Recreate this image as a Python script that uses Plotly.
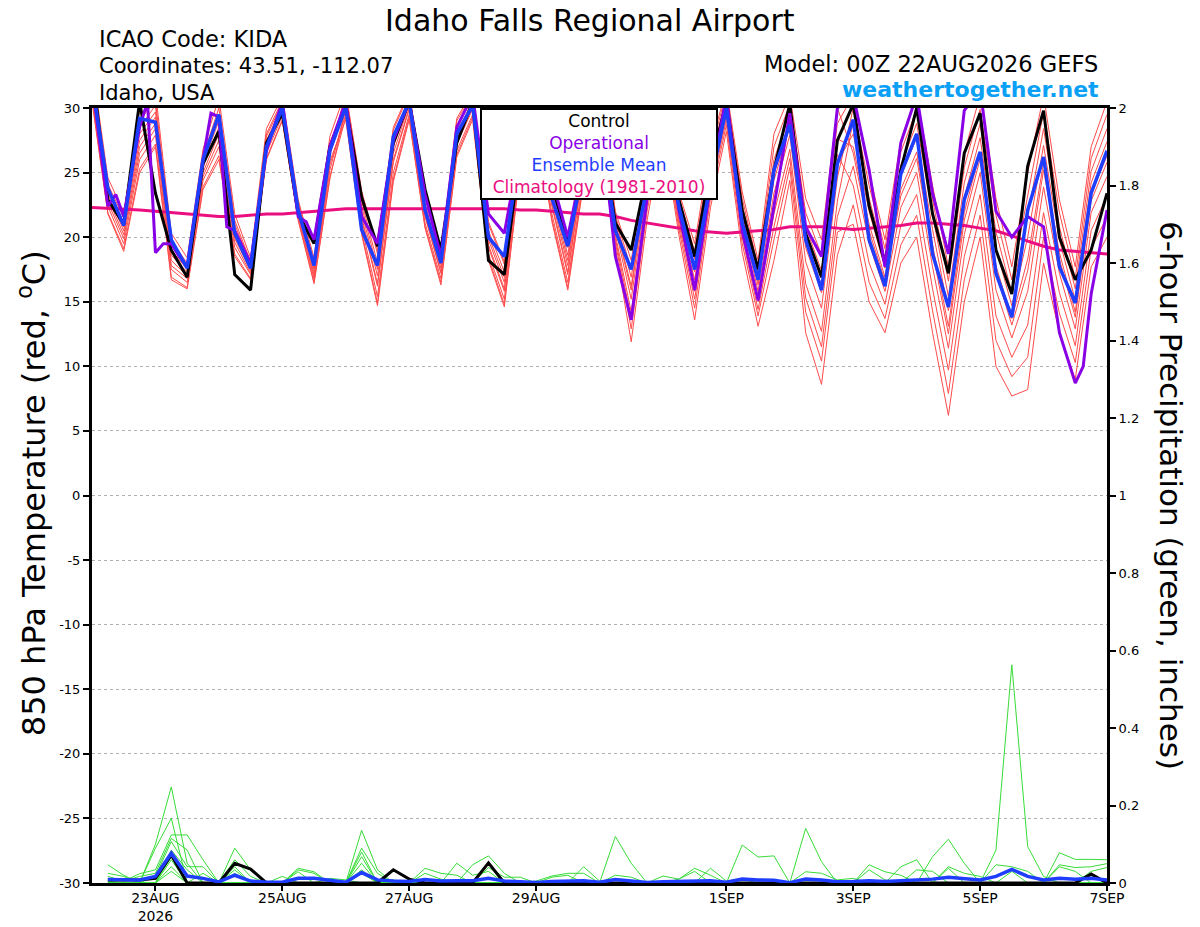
import numpy as np
import pandas as pd
import plotly.graph_objects as go

###############################################################################
# GEFS meteogram, Idaho Falls Regional Airport (KIDA), run 00Z 22AUG2026
###############################################################################
run_start = pd.Timestamp("2026-08-22 00:00")
step_hours = list(range(0, 385, 6))          # temperature: 0..384 h
precip_hours = list(range(6, 385, 6))        # 6-h precip: 6..384 h

# 850 hPa temperature (C)
control_t = [33.0, 22.9, 21.0, 30.5, 23.4, 19.0, 16.9, 25.7, 28.2, 17.1, 15.9, 27.3, 29.6, 21.8, 19.5, 27.0,
             30.2, 23.1, 19.3, 27.3, 30.5, 23.7, 19.0, 27.3, 30.5, 18.2, 17.1, 26.5, 30.5, 24.0, 19.8, 25.5,
             29.0, 21.1, 19.0, 25.0, 30.0, 22.9, 18.5, 25.5, 30.5, 22.1, 17.5, 25.2, 30.3, 20.3, 16.9, 27.5,
             30.3, 22.4, 18.0, 25.2, 30.0, 21.8, 17.2, 26.5, 29.6, 19.0, 15.6, 25.5, 29.8, 20.0, 16.7, 19.0, 23.4]
mean_t = [32.0, 23.8, 20.9, 29.2, 28.9, 19.8, 17.6, 26.0, 29.5, 20.3, 17.6, 27.0, 30.0, 22.1, 17.8, 26.7,
          30.1, 20.6, 17.8, 27.8, 30.5, 22.1, 18.0, 28.0, 30.2, 20.0, 18.5, 27.0, 30.5, 23.0, 19.3, 25.5,
          29.0, 20.5, 17.5, 24.0, 29.5, 22.4, 17.5, 24.2, 30.0, 21.1, 16.7, 25.2, 28.7, 19.8, 15.9, 25.7,
          29.1, 19.8, 16.2, 24.9, 28.0, 18.7, 14.6, 22.9, 26.6, 17.2, 13.8, 22.1, 26.2, 17.7, 14.9, 23.4, 26.7]
clim_t = [22.3, 22.25, 22.2, 22.1, 22.0, 21.9, 21.8, 21.7, 21.6, 21.6, 21.7, 21.8, 21.8, 21.9, 22.0, 22.1,
          22.2, 22.2, 22.2, 22.2, 22.2, 22.2, 22.2, 22.2, 22.2, 22.2, 22.2, 22.1, 22.1, 22.0, 21.9, 21.8,
          21.8, 21.6, 21.3, 21.1, 20.9, 20.7, 20.5, 20.4, 20.3, 20.4, 20.5, 20.6, 20.8, 20.8, 20.8, 20.7,
          20.6, 20.7, 20.8, 20.9, 21.1, 21.1, 21.0, 20.9, 20.7, 20.5, 20.1, 19.7, 19.3, 19.0, 18.9, 18.8, 18.7]

# operational run has a few extra 3-hourly points
op_hours = [0, 6, 9, 12, 18, 21, 24, 27, 30, 33, 36, 42, 45, 48, 51, 54, 60, 66, 72, 78, 81, 84, 90,
            96, 102, 108, 114, 120, 126, 132, 138, 144, 150, 156, 162, 168, 174, 180, 186, 192,
            198, 204, 210, 216, 222, 228, 234, 240, 246, 252, 258, 264, 270, 276, 282, 288,
            294, 300, 306, 312, 318, 324, 330, 336, 342, 348, 354, 360, 366, 372, 375, 378, 384]
op_t = [32.0, 22.4, 23.3, 21.6, 28.5, 30.5, 18.8, 19.5, 19.5, 18.5, 17.7, 26.0, 29.6, 29.3, 20.8, 20.5, 18.0,
        26.7, 30.5, 21.6, 21.2, 19.8, 27.0,
        30.5, 21.6, 19.5, 27.5, 30.5, 23.3, 18.5, 28.5, 31.0, 21.8, 20.3, 27.0, 31.0, 24.5, 20.0, 26.0, 30.0,
        18.5, 13.6, 23.0, 30.5, 22.1, 15.9, 24.0, 31.0, 20.5, 15.1, 22.4, 29.6, 20.8, 18.5, 30.0, 31.0,
        25.2, 17.7, 27.3, 31.0, 23.4, 18.7, 29.8, 31.5, 22.0, 20.0, 21.6, 20.8, 12.6, 8.7, 10.0, 15.6, 22.1]

ens_t01 = [33.4, 24.6, 21.9, 29.8, 31.3, 20.3, 18.4, 26.8, 30.8, 21.8, 18.4, 28.4, 30.9, 22.9, 18.4, 27.8,
           31.3, 23.6, 19.0, 28.5, 31.3, 23.2, 18.7, 29.2, 31.3, 21.2, 18.1, 28.2, 31.3, 24.6, 19.4, 27.6,
           30.4, 21.4, 16.9, 25.0, 30.4, 22.8, 18.3, 26.0, 30.8, 22.5, 17.1, 26.0, 29.6, 20.8, 17.4, 27.6,
           27.0, 21.0, 16.9, 23.7, 26.6, 19.4, 13.1, 21.9, 26.6, 17.8, 13.7, 18.3, 25.8, 18.8, 14.2, 23.3, 26.3]
ens_t02 = [30.7, 21.9, 19.1, 25.3, 27.2, 16.9, 16.1, 23.9, 26.3, 18.7, 16.8, 26.1, 29.1, 21.4, 16.5, 24.7,
           29.3, 20.4, 14.9, 24.5, 29.3, 20.8, 16.5, 26.4, 29.3, 18.4, 14.8, 25.4, 29.3, 21.4, 16.1, 24.4,
           28.6, 19.6, 12.9, 22.0, 28.6, 20.7, 14.5, 23.0, 28.7, 19.5, 13.9, 19.8, 25.4, 14.2, 10.4, 20.4,
           21.0, 15.0, 12.6, 18.0, 20.0, 12.6, 6.2, 15.0, 20.0, 10.0, 7.7, 8.2, 18.0, 12.6, 9.0, 17.7, 20.0]
ens_t03 = [32.0, 23.3, 20.5, 27.5, 29.3, 18.6, 17.3, 25.4, 28.5, 20.3, 17.6, 27.3, 30.0, 22.2, 17.5, 26.3,
           30.8, 22.8, 18.0, 27.5, 30.8, 22.6, 18.2, 28.5, 30.8, 20.5, 17.3, 27.5, 30.8, 23.8, 18.6, 26.8,
           30.7, 21.7, 17.5, 25.5, 30.7, 23.2, 18.9, 26.5, 31.2, 23.0, 17.7, 27.0, 30.3, 21.9, 18.6, 28.8,
           31.0, 25.0, 19.8, 27.5, 31.0, 24.0, 17.7, 26.5, 31.0, 23.0, 17.7, 25.0, 31.0, 22.9, 17.7, 27.0, 30.5]
ens_t04 = [31.4, 22.7, 19.9, 26.5, 28.4, 17.8, 16.8, 24.7, 27.5, 19.6, 17.2, 26.8, 29.6, 21.8, 17.0, 25.6,
           29.5, 20.8, 15.4, 25.0, 29.5, 21.1, 16.8, 26.7, 29.5, 18.7, 15.2, 25.7, 29.5, 21.8, 16.5, 24.8,
           28.2, 19.2, 11.9, 21.3, 28.2, 20.2, 13.6, 22.3, 28.2, 18.8, 13.1, 18.2, 24.4, 12.6, 8.6, 18.6,
           22.5, 16.5, 13.7, 19.4, 21.7, 14.3, 7.9, 16.7, 21.7, 12.0, 9.2, 10.7, 20.0, 14.1, 10.3, 19.1, 21.6]
ens_t05 = [32.6, 23.8, 21.1, 28.5, 30.2, 19.4, 17.8, 26.0, 29.5, 21.0, 18.0, 27.8, 30.4, 22.5, 17.9, 27.0,
           30.3, 22.0, 17.0, 26.5, 30.3, 22.0, 17.6, 27.8, 30.3, 19.8, 16.5, 26.8, 30.3, 23.0, 17.8, 26.0,
           29.2, 20.2, 14.2, 23.0, 29.2, 21.4, 15.8, 24.0, 29.4, 20.5, 15.0, 21.8, 26.8, 16.4, 12.7, 22.8,
           29.0, 23.0, 18.4, 25.6, 28.8, 21.7, 15.4, 24.2, 28.8, 20.4, 15.7, 21.6, 28.4, 20.8, 16.0, 25.1, 28.4]
ens_t06 = [32.3, 23.5, 20.8, 28.0, 29.7, 19.0, 17.5, 25.7, 29.0, 20.6, 17.8, 27.5, 30.2, 22.3, 17.7, 26.6,
           31.1, 23.4, 18.7, 28.3, 31.1, 23.1, 18.6, 29.0, 31.1, 21.0, 17.9, 28.0, 31.1, 24.4, 19.2, 27.4,
           30.1, 21.1, 16.2, 24.5, 30.1, 22.5, 17.6, 25.5, 30.5, 22.0, 16.6, 24.9, 28.9, 19.7, 16.3, 26.4,
           24.0, 18.0, 14.8, 20.9, 23.3, 16.0, 9.7, 18.5, 23.3, 13.9, 10.7, 13.2, 21.9, 15.7, 11.6, 20.5, 23.2]
ens_t07 = [31.1, 22.4, 19.5, 26.0, 27.9, 17.5, 16.5, 24.4, 27.0, 19.2, 17.1, 26.5, 29.4, 21.6, 16.8, 25.2,
           29.9, 21.4, 16.2, 25.8, 29.9, 21.6, 17.2, 27.2, 29.9, 19.2, 15.8, 26.2, 29.9, 22.4, 17.1, 25.4,
           29.7, 20.7, 15.2, 23.8, 29.7, 21.9, 16.7, 24.8, 29.9, 21.3, 15.8, 23.4, 27.9, 18.1, 14.5, 24.6,
           30.0, 24.0, 19.1, 26.6, 29.9, 22.9, 16.6, 25.4, 29.9, 21.7, 16.7, 23.3, 29.7, 21.9, 16.8, 26.1, 29.5]
ens_t08 = [32.9, 24.1, 21.5, 29.0, 30.6, 19.7, 18.0, 26.3, 30.0, 21.3, 18.1, 28.0, 30.6, 22.7, 18.1, 27.3,
           30.5, 22.4, 17.5, 27.0, 30.5, 22.3, 17.9, 28.1, 30.5, 20.1, 16.9, 27.1, 30.5, 23.4, 18.2, 26.4,
           28.9, 19.9, 13.6, 22.5, 28.9, 21.1, 15.2, 23.5, 29.1, 20.0, 14.4, 20.8, 26.1, 15.3, 11.5, 21.6,
           25.5, 19.5, 15.8, 22.3, 25.0, 17.7, 11.4, 20.2, 25.0, 15.9, 12.2, 15.8, 23.9, 17.2, 12.9, 21.9, 24.7]
ens_t09 = [31.7, 23.0, 20.2, 27.0, 28.8, 18.2, 17.0, 25.0, 28.0, 19.9, 17.4, 27.0, 29.8, 22.0, 17.2, 25.9,
           29.1, 20.2, 14.7, 24.3, 29.1, 20.7, 16.3, 26.2, 29.1, 18.2, 14.6, 25.2, 29.1, 21.2, 15.9, 24.2,
           30.0, 21.0, 15.9, 24.3, 30.0, 22.3, 17.3, 25.3, 30.3, 21.8, 16.3, 24.4, 28.6, 19.2, 15.7, 25.8,
           28.0, 22.0, 17.6, 24.7, 27.7, 20.6, 14.3, 23.1, 27.7, 19.1, 14.7, 20.0, 27.1, 19.8, 15.1, 24.2, 27.4]
ens_t10 = [30.5, 21.8, 18.9, 25.0, 27.0, 16.7, 16.0, 23.7, 26.0, 18.5, 16.7, 26.0, 29.0, 21.3, 16.4, 24.5,
           30.0, 21.6, 16.4, 26.0, 30.0, 21.7, 17.3, 27.4, 30.0, 19.4, 16.0, 26.4, 30.0, 22.6, 17.3, 25.6,
           31.0, 22.0, 18.2, 26.0, 31.0, 23.5, 19.5, 27.0, 31.5, 23.5, 18.2, 28.0, 31.0, 23.0, 19.8, 30.0,
           26.5, 20.5, 16.6, 23.2, 26.1, 18.9, 12.5, 21.3, 26.1, 17.2, 13.2, 17.4, 25.2, 18.3, 13.8, 22.8, 25.8]

# 6-hour precipitation (inches)
control_p = [0.008, 0.008, 0.008, 0.012, 0.072, 0, 0, 0,
             0.051, 0.036, 0, 0, 0, 0, 0, 0,
             0, 0, 0.034, 0.01, 0, 0, 0, 0,
             0.052, 0, 0, 0, 0, 0, 0, 0,
             0, 0, 0, 0, 0, 0, 0, 0,
             0, 0, 0, 0, 0, 0, 0, 0,
             0, 0, 0, 0, 0, 0, 0, 0,
             0, 0, 0, 0, 0, 0, 0.023, 0]
mean_p = [0.009, 0.009, 0.008, 0.017, 0.077, 0.018, 0.012, 0.003,
          0.02, 0.005, 0.002, 0.002, 0.012, 0.012, 0.008, 0.002,
          0.027, 0.008, 0.005, 0.004, 0.009, 0.005, 0.006, 0.006,
          0.012, 0.005, 0.003, 0.001, 0.004, 0.006, 0.006, 0.002,
          0.009, 0.005, 0.001, 0.003, 0.004, 0.006, 0.006, 0.002,
          0.01, 0.008, 0.007, 0.001, 0.01, 0.008, 0.003, 0.004,
          0.006, 0.004, 0.006, 0.009, 0.01, 0.015, 0.012, 0.008,
          0.017, 0.035, 0.017, 0.008, 0.012, 0.01, 0.012, 0.008]

ens_p01 = [0.047, 0.02, 0, 0.10, 0.248, 0.051, 0, 0,
           0.06, 0.017, 0, 0, 0, 0, 0, 0,
           0.051, 0, 0, 0, 0, 0, 0.051, 0.02,
           0.03, 0, 0, 0, 0, 0, 0, 0,
           0, 0, 0, 0, 0, 0, 0, 0,
           0.098, 0.067, 0.07, 0, 0, 0, 0, 0,
           0, 0, 0, 0, 0, 0, 0, 0,
           0, 0, 0, 0, 0.042, 0.03, 0, 0]
ens_p02 = [0.025, 0.017, 0, 0.09, 0.167, 0, 0.025, 0,
           0.042, 0, 0, 0, 0, 0, 0, 0,
           0.136, 0.034, 0, 0, 0, 0, 0, 0,
           0, 0, 0, 0.005, 0.018, 0.025, 0.025, 0,
           0, 0, 0, 0, 0, 0, 0, 0,
           0, 0, 0, 0, 0.141, 0.055, 0, 0,
           0, 0, 0, 0, 0, 0, 0, 0,
           0, 0.03, 0, 0, 0, 0, 0, 0]
ens_p03 = [0.017, 0.005, 0.024, 0.034, 0.124, 0.124, 0.06, 0,
           0, 0, 0, 0, 0, 0, 0, 0,
           0.034, 0, 0, 0, 0, 0, 0, 0,
           0, 0, 0, 0, 0.015, 0.02, 0, 0,
           0, 0, 0, 0, 0, 0, 0, 0,
           0, 0, 0, 0, 0.029, 0.025, 0.008, 0.012,
           0, 0, 0, 0, 0, 0, 0, 0,
           0.085, 0.563, 0.094, 0.017, 0, 0, 0, 0]
ens_p04 = [0.012, 0.005, 0.017, 0.025, 0.115, 0.085, 0, 0,
           0, 0, 0, 0, 0.038, 0.029, 0, 0,
           0, 0, 0, 0, 0, 0, 0, 0,
           0, 0, 0, 0, 0, 0, 0.042, 0.005,
           0, 0, 0, 0, 0, 0, 0, 0,
           0, 0, 0, 0, 0, 0, 0, 0,
           0.047, 0.029, 0.02, 0, 0, 0, 0, 0,
           0, 0, 0, 0, 0.078, 0.061, 0.061, 0.06]
ens_p05 = [0.005, 0, 0, 0.017, 0.107, 0.042, 0.042, 0,
           0, 0, 0, 0.017, 0, 0, 0, 0,
           0.09, 0.025, 0, 0, 0, 0, 0, 0,
           0, 0, 0, 0, 0, 0, 0, 0,
           0.02, 0.015, 0, 0, 0, 0, 0, 0,
           0, 0, 0, 0, 0, 0, 0, 0,
           0.034, 0.008, 0, 0, 0, 0, 0, 0,
           0, 0, 0, 0, 0.047, 0.04, 0.042, 0.05]
ens_p06 = [0, 0, 0, 0, 0.085, 0.034, 0, 0,
           0.09, 0.034, 0, 0, 0, 0, 0, 0,
           0, 0, 0, 0, 0.025, 0.01, 0, 0.047,
           0.07, 0.025, 0, 0, 0, 0, 0, 0,
           0, 0, 0, 0, 0, 0, 0, 0,
           0, 0, 0, 0, 0, 0, 0, 0,
           0, 0, 0.042, 0.06, 0, 0.038, 0, 0,
           0, 0, 0, 0, 0, 0, 0.03, 0.04]
ens_p07 = [0, 0, 0, 0, 0.068, 0, 0, 0,
           0.034, 0, 0, 0, 0, 0, 0, 0,
           0.08, 0, 0.008, 0, 0, 0, 0, 0,
           0, 0, 0, 0, 0, 0, 0, 0,
           0.12, 0.051, 0, 0, 0, 0, 0, 0,
           0, 0, 0, 0, 0, 0, 0, 0,
           0, 0, 0, 0.034, 0.03, 0, 0, 0,
           0, 0, 0, 0, 0, 0, 0, 0]
ens_p08 = [0, 0, 0, 0, 0.06, 0, 0, 0,
           0.025, 0, 0, 0, 0.034, 0.025, 0, 0,
           0.068, 0, 0, 0, 0, 0, 0, 0,
           0, 0, 0, 0, 0, 0, 0, 0,
           0, 0, 0, 0.018, 0.01, 0.03, 0, 0,
           0, 0, 0, 0, 0, 0, 0, 0,
           0, 0, 0, 0, 0.068, 0.113, 0.051, 0,
           0, 0, 0, 0, 0, 0, 0, 0]
ens_p09 = [0, 0, 0, 0, 0.042, 0, 0, 0,
           0, 0, 0, 0, 0.029, 0, 0.012, 0.008,
           0, 0, 0, 0, 0, 0, 0, 0,
           0.04, 0.015, 0.015, 0, 0, 0, 0, 0,
           0, 0, 0, 0, 0.01, 0.038, 0.02, 0,
           0, 0, 0, 0, 0, 0, 0, 0,
           0, 0, 0, 0, 0, 0.042, 0.025, 0.017,
           0, 0, 0, 0, 0, 0, 0, 0]
ens_p10 = [0, 0, 0, 0, 0.03, 0, 0, 0,
           0, 0, 0, 0, 0, 0, 0, 0,
           0.025, 0, 0, 0, 0.038, 0.025, 0.02, 0,
           0, 0, 0, 0, 0, 0, 0, 0,
           0, 0, 0, 0, 0, 0, 0.038, 0.005,
           0.01, 0, 0, 0, 0, 0, 0, 0,
           0, 0, 0, 0, 0, 0, 0, 0,
           0.047, 0.042, 0.03, 0, 0, 0, 0, 0]

tick_dates = ["2026-08-23", "2026-08-25", "2026-08-27", "2026-08-29",
              "2026-09-01", "2026-09-03", "2026-09-05", "2026-09-07"]
tick_text = ["23AUG<br>2026", "25AUG", "27AUG", "29AUG", "1SEP", "3SEP", "5SEP", "7SEP"]
temp_ticks = [30, 25, 20, 15, 10, 5, 0, -5, -10, -15, -20, -25, -30]
precip_ticks = [0, 0.2, 0.4, 0.6, 0.8, 1, 1.2, 1.4, 1.6, 1.8, 2]
###############################################################################

t_times = run_start + pd.to_timedelta(step_hours, unit="h")
p_times = run_start + pd.to_timedelta(precip_hours, unit="h")
op_times = run_start + pd.to_timedelta(op_hours, unit="h")

FONT = "DejaVu Sans, Verdana, sans-serif"
RED = "rgb(255,75,75)"
GREEN = "rgb(55,220,55)"
BLACK = "#000000"
PURPLE = "#8a00e6"
BLUE = "#1f3dff"
PINK = "#ea0e80"

fig = go.Figure()

for ens in [ens_t01, ens_t02, ens_t03, ens_t04, ens_t05, ens_t06, ens_t07, ens_t08, ens_t09, ens_t10]:
    fig.add_trace(go.Scatter(x=t_times, y=ens, mode="lines", line=dict(color=RED, width=1),
                             showlegend=False, hoverinfo="skip"))

fig.add_trace(go.Scatter(x=t_times, y=clim_t, mode="lines", line=dict(color=PINK, width=3),
                         name="Climatology (1981-2010)"))
fig.add_trace(go.Scatter(x=t_times, y=control_t, mode="lines", line=dict(color=BLACK, width=3),
                         name="Control"))
fig.add_trace(go.Scatter(x=op_times, y=op_t, mode="lines", line=dict(color=PURPLE, width=3),
                         name="Operational"))
fig.add_trace(go.Scatter(x=t_times, y=mean_t, mode="lines", line=dict(color=BLUE, width=3.5),
                         name="Ensemble Mean"))

for ens in [ens_p01, ens_p02, ens_p03, ens_p04, ens_p05, ens_p06, ens_p07, ens_p08, ens_p09, ens_p10]:
    fig.add_trace(go.Scatter(x=p_times, y=ens, yaxis="y2", mode="lines",
                             line=dict(color=GREEN, width=1), showlegend=False, hoverinfo="skip"))
fig.add_trace(go.Scatter(x=p_times, y=control_p, yaxis="y2", mode="lines",
                         line=dict(color=BLACK, width=3), showlegend=False))
fig.add_trace(go.Scatter(x=p_times, y=mean_p, yaxis="y2", mode="lines",
                         line=dict(color=BLUE, width=3.5), showlegend=False))

legend_text = ("Control<br>"
               f"<span style='color:{PURPLE}'>Operational</span><br>"
               f"<span style='color:{BLUE}'>Ensemble Mean</span><br>"
               f"<span style='color:{PINK}'>Climatology (1981-2010)</span>")


def note(text, x, y, size, xanchor="left", **kw):
    return dict(text=text, xref="paper", yref="paper", x=x, y=y, xanchor=xanchor, yanchor="middle",
                showarrow=False, font=dict(size=size, color=kw.pop("color", BLACK), family=FONT), **kw)


annotations = [
    dict(text=legend_text, xref="paper", yref="paper", x=0.4995, y=1.0, xanchor="center", yanchor="top",
         showarrow=False, align="center", font=dict(size=17, color=BLACK, family=FONT),
         bgcolor="white", bordercolor=BLACK, borderwidth=2, borderpad=1, width=232),
    note("Idaho Falls Regional Airport", 0.4906, 1.1125, 30, xanchor="center"),
    note("ICAO Code: KIDA", 0.005, 1.0885, 22.5),
    note("Coordinates: 43.51, -112.07", 0.005, 1.0545, 21),
    note("Idaho, USA", 0.005, 1.0195, 21),
    note("Model: 00Z 22AUG2026 GEFS", 0.9931, 1.0574, 22.5, xanchor="right"),
    note("<b>weathertogether.net</b>", 0.9941, 1.0245, 22, xanchor="right", color="#0aa0f5"),
    note("850 hPa Temperature (red, <sup>o</sup>C)", -0.0591, 0.503, 32, xanchor="center", textangle=-90),
    note("6-hour Precipitation (green, inches)", 1.0631, 0.5006, 31, xanchor="center", textangle=90),
]

fig.update_layout(
    width=1200, height=927,
    margin=dict(l=92, r=93, t=108, b=44, autoexpand=False),
    paper_bgcolor="white", plot_bgcolor="white",
    showlegend=False,
    font=dict(family=FONT, color=BLACK),
    annotations=annotations,
    xaxis=dict(
        type="date", range=[run_start, run_start + pd.Timedelta(hours=384)],
        tickvals=pd.to_datetime(tick_dates), ticktext=tick_text, automargin=False,
        ticks="outside", ticklen=5, tickwidth=1.5, tickcolor=BLACK, ticklabelstandoff=-5,
        showline=True, linewidth=3, linecolor=BLACK, mirror=True,
        showgrid=False, zeroline=False, tickfont=dict(size=14, family=FONT),
    ),
    yaxis=dict(
        range=[-30, 30], tickvals=temp_ticks, ticktext=[str(v) for v in temp_ticks], automargin=False,
        ticks="outside", ticklen=6, tickwidth=1.5, tickcolor=BLACK,
        showline=True, linewidth=3, linecolor=BLACK,
        showgrid=True, gridcolor="#b0b0b0", griddash="dot", gridwidth=1.3,
        zeroline=False, tickfont=dict(size=13, family=FONT),
    ),
    yaxis2=dict(
        range=[0, 2], overlaying="y", side="right", automargin=False,
        tickvals=precip_ticks, ticktext=[f"{v:g}" for v in precip_ticks],
        ticks="outside", ticklen=6, tickwidth=1.5, tickcolor=BLACK,
        showline=True, linewidth=3, linecolor=BLACK,
        showgrid=False, zeroline=False, tickfont=dict(size=13, family=FONT),
    ),
)

# page body has a default 8px margin; drop it so the figure sits at the window origin
fig.write_html("out.html", config={"displayModeBar": False},
               post_script="document.body.style.margin='0px';")
